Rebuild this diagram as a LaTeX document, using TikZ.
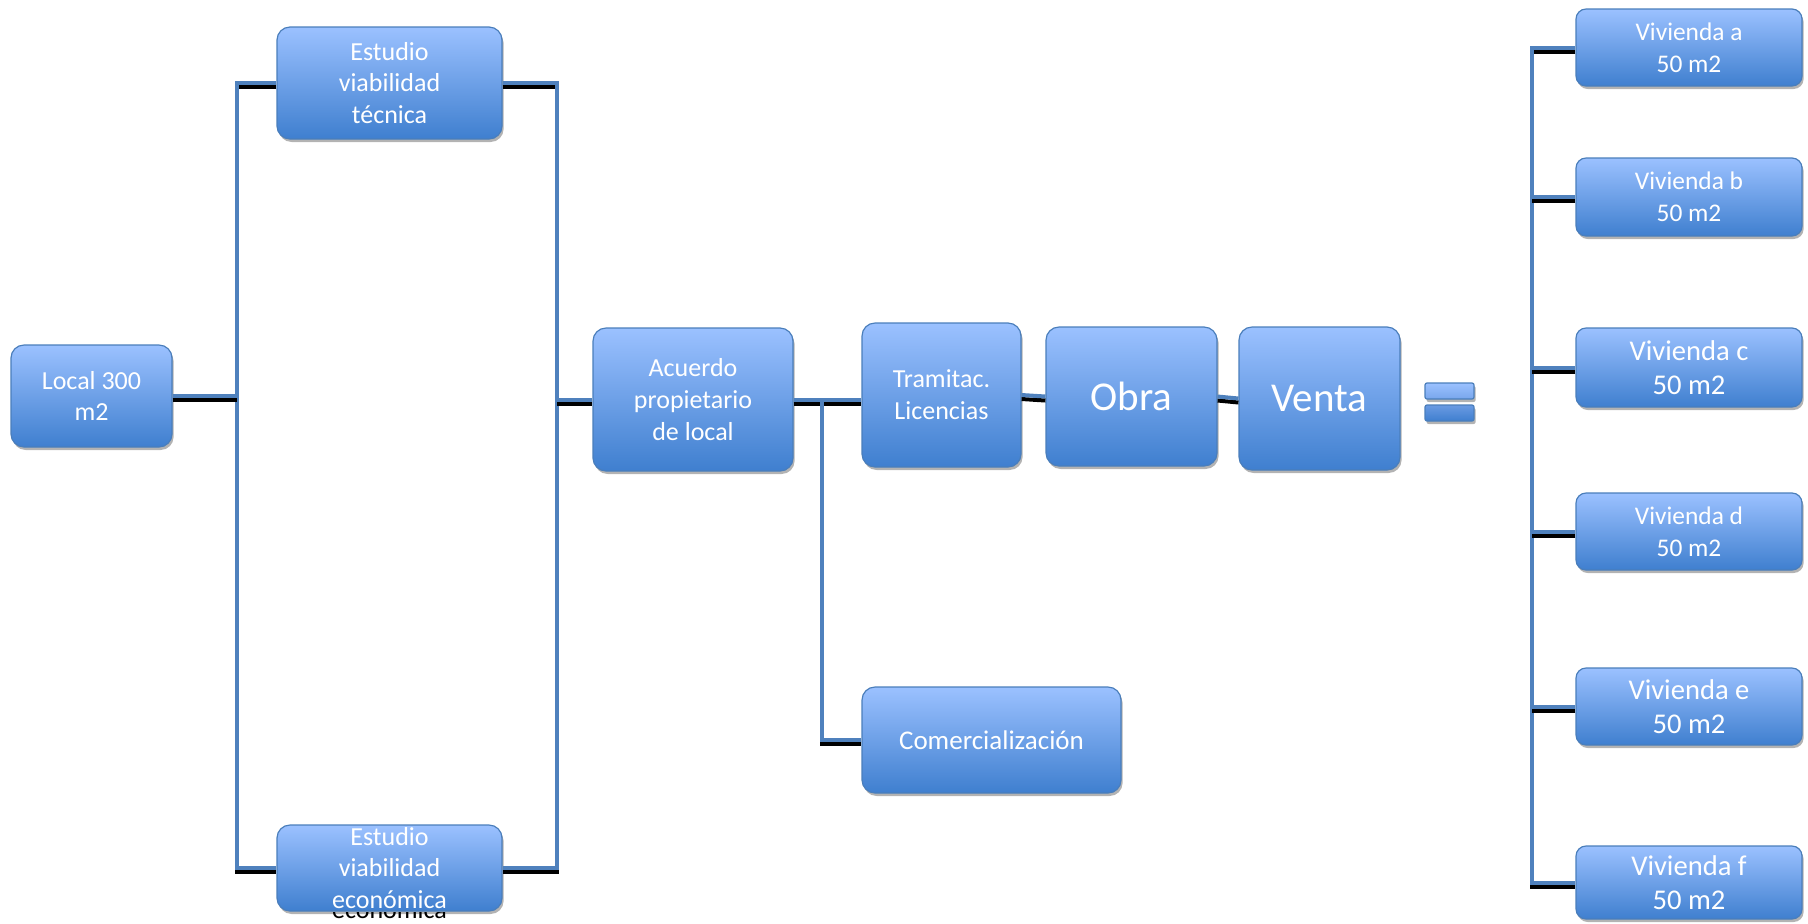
\documentclass[tikz,border=0pt]{standalone}
\usepackage{fontspec}
\setmainfont{Carlito}
\usetikzlibrary{shadows,calc}
\definecolor{boxtop}{RGB}{155,193,255}
\definecolor{boxbot}{RGB}{63,127,207}
\definecolor{boxline}{RGB}{74,126,187}
\definecolor{conblue}{RGB}{79,129,189}
\tikzset{
  box/.style={draw=boxline, line width=0.6pt, rounded corners=6.5pt,
    top color=boxtop, bottom color=boxbot,
    drop shadow={shadow xshift=0.8pt, shadow yshift=-1.5pt, fill=black!50, opacity=0.6},
    text=white, align=center, inner sep=0pt, font=\fontsize{13}{15.9}\selectfont},
  vbox/.style={box, rounded corners=5pt, minimum width=113pt, font=\fontsize{14.3}{17.3}\selectfont},
  vsmall/.style={font=\fontsize{12.7}{16}\selectfont},
  eqbar/.style={box, rounded corners=1pt, minimum width=24.5pt, minimum height=8pt},
  boxtext/.style={text=white, align=center, inner sep=0pt, font=\fontsize{13}{15.9}\selectfont},
  con/.style={draw=conblue, line width=2pt},
  conshadow/.style={draw=black, line width=2pt, transform canvas={yshift=-2pt}},
}
\newcommand\conn[1]{\draw[conshadow] #1; \draw[con] #1;}
\begin{document}
\begin{tikzpicture}[x=0.5pt,y=-0.5pt]
\useasboundingbox (0,0) rectangle (1808,923);

% boxes
\node[box, minimum width=80.5pt, minimum height=51pt] (local) at (91.5,396) {Local 300\\m2};
\node[box, minimum width=112.5pt, minimum height=56pt] (evt) at (389.5,83) {Estudio\\viabilidad\\técnica};
\node[box, minimum width=112.5pt, minimum height=43pt] (eve) at (389.5,868) {};
\node[boxtext] (evetext) at (eve.center) {Estudio\\viabilidad\\económica};
\begin{scope}
  \clip ($(eve.south west)+(0,1)$) rectangle ($(eve.south east)+(0,20)$);
  \node[boxtext, text=black] (eveshadow) at ($(eve.center)+(0,10)$) {Estudio\\viabilidad\\económica};
\end{scope}
\node[box, minimum width=100pt, minimum height=71.5pt] (acuerdo) at (693,399.5) {Acuerdo\\propietario\\de local};
\node[box, minimum width=79.5pt, minimum height=72pt] (tram) at (941.5,395) {Tramitac.\\Licencias};
\node[box, minimum width=85.5pt, minimum height=69.5pt, font=\fontsize{20.5}{24}\selectfont] (obra) at (1131.5,396.5) {Obra};
\node[box, minimum width=80.5pt, minimum height=71.5pt, font=\fontsize{20.5}{24}\selectfont] (venta) at (1319.5,398.5) {Venta};
\node[box, minimum width=129.5pt, minimum height=53pt, font=\fontsize{13.5}{16}\selectfont] (comer) at (991.5,740) {Comercialización};

\node[eqbar, top color=boxtop, bottom color={rgb,255:red,120;green,166;blue,236}] (eqa) at (1449.5,391) {};
\node[eqbar, top color={rgb,255:red,106;green,154;blue,226}, bottom color=boxbot] (eqb) at (1449.5,413) {};

\node[vbox, vsmall, minimum height=38.5pt] (va) at (1689,47.5) {Vivienda a\\50 m2};
\node[vbox, vsmall, minimum height=39pt] (vb) at (1689,197) {Vivienda b\\50 m2};
\node[vbox, minimum height=39.5pt] (vc) at (1689,367.5) {Vivienda c\\50 m2};
\node[vbox, vsmall, minimum height=38.5pt] (vd) at (1689,531.5) {Vivienda d\\50 m2};
\node[vbox, minimum height=38.5pt] (ve) at (1689,706.5) {Vivienda e\\50 m2};
\node[vbox, minimum height=36.5pt] (vf) at (1689,882.5) {Vivienda f\\50 m2};

% junctions
\coordinate (bl) at (237,396);
\coordinate (br) at (557,399.5);
\coordinate (bc) at (822,399.5);
\coordinate (bv) at (1532,47.5);

% connectors
\conn{(evt.west) -| (bl) |- (eve.west)}
\conn{(local.east) -- (bl)}
\conn{(evt.east) -| (br) |- (eve.east)}
\conn{(br) -- (acuerdo.west)}
\conn{(acuerdo.east) -- (acuerdo.east -| tram.west)}
\conn{(bc) |- (comer.west)}
\conn{(tram.east) -- (obra.west)}
\conn{(obra.east) -- (venta.west)}
\conn{(va.west) -| (bv) |- (vf.west)}
\conn{(vb.west) -- (vb.west -| bv)}
\conn{(vc.west) -- (vc.west -| bv)}
\conn{(vd.west) -- (vd.west -| bv)}
\conn{(ve.west) -- (ve.west -| bv)}
\end{tikzpicture}
\end{document}
